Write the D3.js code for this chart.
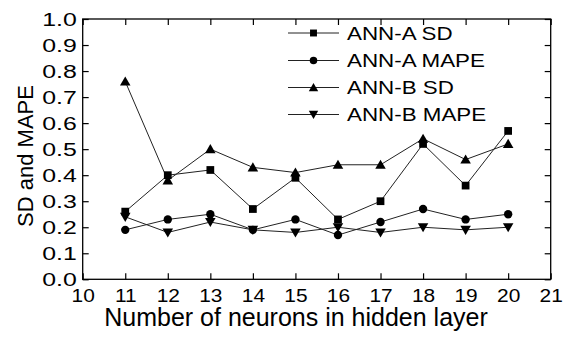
<!DOCTYPE html>
<html>
<head>
<meta charset="utf-8">
<script src="https://cdn.jsdelivr.net/npm/d3@7"></script>
<style>
  html, body { margin: 0; padding: 0; background: #fff; }
  svg { display: block; font-family: "Liberation Sans", Arial, sans-serif; }
</style>
</head>
<body>
<svg id="chart" width="573" height="340"></svg>
<script>
// Hidden-layer sizes tried
const neurons = [11, 12, 13, 14, 15, 16, 17, 18, 19, 20];

// Error metrics per network size
const annASD   = [0.26, 0.40, 0.42, 0.27, 0.39, 0.23, 0.30, 0.52, 0.36, 0.57];
const annAMAPE = [0.19, 0.23, 0.25, 0.19, 0.23, 0.17, 0.22, 0.27, 0.23, 0.25];
const annBSD   = [0.76, 0.38, 0.50, 0.43, 0.41, 0.44, 0.44, 0.54, 0.46, 0.52];
const annBMAPE = [0.24, 0.18, 0.22, 0.19, 0.18, 0.20, 0.18, 0.20, 0.19, 0.20];

const seriesNames = ["ANN-A SD", "ANN-A MAPE", "ANN-B SD", "ANN-B MAPE"];
const xTicks = [10, 11, 12, 13, 14, 15, 16, 17, 18, 19, 20, 21];
const yTicks = [0.0, 0.1, 0.2, 0.3, 0.4, 0.5, 0.6, 0.7, 0.8, 0.9, 1.0];

const series = [
  { name: seriesNames[0], values: annASD,   symbol: d3.symbolSquare,   size: 60, rot: 0 },
  { name: seriesNames[1], values: annAMAPE, symbol: d3.symbolCircle,   size: 55, rot: 0 },
  { name: seriesNames[2], values: annBSD,   symbol: d3.symbolTriangle, size: 48, rot: 0 },
  { name: seriesNames[3], values: annBMAPE, symbol: d3.symbolTriangle, size: 48, rot: 180 }
];

const svg = d3.select("#chart");
const plot = { left: 82.7, right: 550.7, top: 19, bottom: 279.3 };

const x = d3.scaleLinear().domain([10, 21]).range([plot.left, plot.right]);
const y = d3.scaleLinear().domain([0, 1]).range([plot.bottom, plot.top]);

// Frame
svg.append("rect")
  .attr("x", plot.left).attr("y", plot.top)
  .attr("width", plot.right - plot.left).attr("height", plot.bottom - plot.top)
  .attr("fill", "none").attr("stroke", "#000").attr("stroke-width", 1.3);

// Bottom axis, ticks pointing inward
const gx = svg.append("g")
  .attr("transform", `translate(0,${plot.bottom})`)
  .call(d3.axisBottom(x).tickValues(xTicks).tickFormat(d3.format("d"))
        .tickSizeInner(-6).tickSizeOuter(0).tickPadding(6));
gx.select(".domain").remove();
gx.selectAll(".tick line").attr("stroke", "#000").attr("stroke-width", 1.2);
gx.selectAll(".tick text")
  .attr("fill", "#000").attr("font-size", 19)
  .attr("font-family", "Liberation Sans, Arial, sans-serif")
  .attr("dy", null).attr("y", 22.5)
  .attr("transform", "scale(1.1,1)");

// Top axis mirror ticks
const gxt = svg.append("g")
  .attr("transform", `translate(0,${plot.top})`)
  .call(d3.axisTop(x).tickValues(xTicks).tickFormat("").tickSizeInner(-6).tickSizeOuter(0));
gxt.select(".domain").remove();
gxt.selectAll(".tick line").attr("stroke", "#000").attr("stroke-width", 1.2);

// Left axis
const gy = svg.append("g")
  .attr("transform", `translate(${plot.left},0)`)
  .call(d3.axisLeft(y).tickValues(yTicks).tickFormat(d3.format(".1f"))
        .tickSizeInner(-6).tickSizeOuter(0).tickPadding(6));
gy.select(".domain").remove();
gy.selectAll(".tick line").attr("stroke", "#000").attr("stroke-width", 1.2);
gy.selectAll(".tick text")
  .attr("fill", "#000").attr("font-size", 18)
  .attr("font-family", "Liberation Sans, Arial, sans-serif")
  .attr("x", 0).attr("dy", "0.36em")
  .attr("transform", "translate(-6,0) scale(1.38,1)");

// Right axis mirror ticks
const gyr = svg.append("g")
  .attr("transform", `translate(${plot.right},0)`)
  .call(d3.axisRight(y).tickValues(yTicks).tickFormat("").tickSizeInner(-6).tickSizeOuter(0));
gyr.select(".domain").remove();
gyr.selectAll(".tick line").attr("stroke", "#000").attr("stroke-width", 1.2);

// Axis titles
svg.append("text")
  .attr("x", 296).attr("y", 326)
  .attr("text-anchor", "middle")
  .attr("font-size", 25)
  .text("Number of neurons in hidden layer");

svg.append("text")
  .attr("transform", "translate(33,156) rotate(-90)")
  .attr("text-anchor", "middle")
  .attr("font-size", 22)
  .text("SD and MAPE");

// Series lines and markers
const line = d3.line().x((d, i) => x(neurons[i])).y(d => y(d));

series.forEach(s => {
  svg.append("path")
    .datum(s.values)
    .attr("d", line)
    .attr("fill", "none")
    .attr("stroke", "#222")
    .attr("stroke-width", 1);
});

series.forEach(s => {
  const sym = d3.symbol().type(s.symbol).size(s.size);
  svg.append("g").selectAll("path")
    .data(s.values)
    .join("path")
    .attr("d", sym)
    .attr("fill", "#000")
    .attr("transform", (d, i) => {
      const off = s.symbol === d3.symbolTriangle ? (s.rot ? -1 : 1) : 0;
      return `translate(${x(neurons[i])},${y(d) + off}) rotate(${s.rot})`;
    });
});

// Legend
const legend = svg.append("g");
const legendRowY = [33, 60.5, 87.5, 114.5];
series.forEach((s, i) => {
  const g = legend.append("g").attr("transform", `translate(0,${legendRowY[i]})`);
  g.append("line")
    .attr("x1", 288).attr("x2", 339).attr("y1", 0).attr("y2", 0)
    .attr("stroke", "#222").attr("stroke-width", 1);
  const off = s.symbol === d3.symbolTriangle ? (s.rot ? -1 : 1) : 0;
  g.append("path")
    .attr("d", d3.symbol().type(s.symbol).size(s.size * 0.8))
    .attr("fill", "#000")
    .attr("transform", `translate(313.5,${off}) rotate(${s.rot})`);
  g.append("text")
    .attr("x", 0).attr("y", 0).attr("dy", "0.36em")
    .attr("font-size", 18.5)
    .attr("transform", "translate(347,0) scale(1.21,1)")
    .text(s.name);
});
</script>
</body>
</html>
